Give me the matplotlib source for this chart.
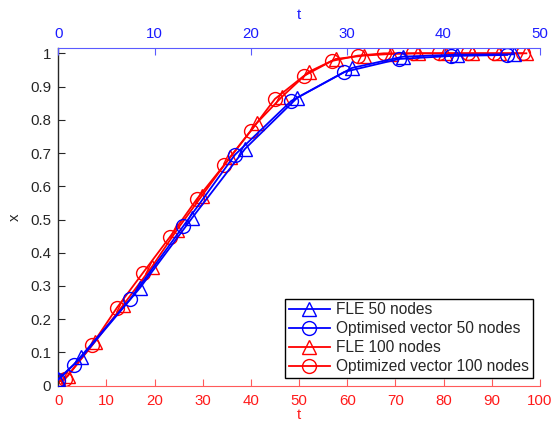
import matplotlib
matplotlib.use("Agg")
import matplotlib.pyplot as plt

# 50 nodes (top axis, 0-50)
blue_tri_t = [0, 2.4, 8.5, 13.9, 19.4, 24.8, 30.5, 35.8, 41.4, 47.3]
blue_tri_x = [0.02, 0.085, 0.295, 0.505, 0.713, 0.866, 0.956, 0.99, 0.996, 0.997]
blue_circ_t = [0, 1.6, 7.45, 12.95, 18.35, 24.2, 29.7, 35.4, 40.8, 46.6]
blue_circ_x = [0.018, 0.063, 0.26, 0.479, 0.695, 0.857, 0.944, 0.983, 0.992, 0.995]

# 100 nodes (bottom axis, 0-100)
red_tri_t = [0, 2, 7.6, 13.5, 19.4, 24.6, 29.8, 35.7, 41.2, 46.5, 52, 57.6,
             63.4, 69, 74.7, 80.4, 86, 91.6, 97.2]
red_tri_x = [0.01, 0.03, 0.132, 0.243, 0.357, 0.468, 0.571, 0.688, 0.79, 0.87,
             0.944, 0.983, 0.993, 0.998, 1.0, 1.0, 1.0, 1.0, 1.0]
red_circ_t = [0, 1.4, 6.9, 12.2, 17.6, 23.2, 28.8, 34.5, 40, 45, 51, 56.8,
              62.2, 67.6, 73.6, 79, 85, 90.4, 96.4]
red_circ_x = [0.012, 0.02, 0.121, 0.235, 0.34, 0.448, 0.562, 0.665, 0.767, 0.863,
              0.932, 0.977, 0.993, 1.0, 1.0, 1.0, 1.0, 1.0, 1.0]

bottom_ticks = list(range(0, 101, 10))
top_ticks = list(range(0, 51, 10))
y_ticks = [0, 0.1, 0.2, 0.3, 0.4, 0.5, 0.6, 0.7, 0.8, 0.9, 1]
y_labels = ["0", "0.1", "0.2", "0.3", "0.4", "0.5", "0.6", "0.7", "0.8", "0.9", "1"]

plt.rcParams["font.family"] = ["Liberation Sans", "DejaVu Sans"]
plt.rcParams["font.size"] = 10.8

RED_AX = "#ff5a5a"
RED_TXT = "#ff1a1a"
BLUE_AX = "#5a5aff"
BLUE_TXT = "#1a1aff"
GRAY = "#262626"

fig = plt.figure(figsize=(5.52, 4.22), dpi=100)
ax = fig.add_axes([0.1056, 0.086, 0.8724, 0.7995])
ax2 = ax.twiny()

mk = dict(markersize=10, markerfacecolor="none", markeredgewidth=1.0, linewidth=1.3)

h3, = ax.plot(red_tri_t, red_tri_x, "-^", color="red", label="FLE 100 nodes", **mk)
h4, = ax.plot(red_circ_t, red_circ_x, "-o", color="red", label="Optimized vector 100 nodes", **mk)
h1, = ax2.plot(blue_tri_t, blue_tri_x, "-^", color="blue", label="FLE 50 nodes", **mk)
h2, = ax2.plot(blue_circ_t, blue_circ_x, "-o", color="blue", label="Optimised vector 50 nodes", **mk)

ax.set_xlim(0, 100)
ax2.set_xlim(0, 50)
ax.set_ylim(0, 1.015)

ax.set_xticks(bottom_ticks)
ax2.set_xticks(top_ticks)
ax.set_yticks(y_ticks)
ax.set_yticklabels(y_labels)

for s in ["top", "right"]:
    ax.spines[s].set_visible(False)
ax.spines["bottom"].set_color(RED_AX)
ax.spines["left"].set_color(GRAY)
ax.spines["left"].set_linewidth(1.0)
for s in ["bottom", "left", "right"]:
    ax2.spines[s].set_visible(False)
ax2.spines["top"].set_color(BLUE_AX)

ax.tick_params(axis="x", direction="in", colors=RED_AX, labelcolor=RED_TXT, length=5, pad=6)
ax.tick_params(axis="y", direction="in", colors=GRAY, labelcolor=GRAY, length=5, pad=5)
ax2.tick_params(axis="x", direction="in", colors=BLUE_AX, labelcolor=BLUE_TXT, length=5, pad=5)

ax.set_xlabel("t", color=RED_TXT, labelpad=0)
ax2.set_xlabel("t", color=BLUE_TXT, labelpad=6)
ax.set_ylabel("x", color=GRAY, labelpad=6)

leg = ax2.legend(handles=[h1, h2, h3, h4], loc="lower right",
                 bbox_to_anchor=(0.985, 0.023), borderaxespad=0,
                 fancybox=False, framealpha=1, edgecolor="black",
                 handlelength=2.6, labelspacing=0.25, borderpad=0.25,
                 handletextpad=0.4, fontsize=11.2)
leg.get_frame().set_linewidth(1.0)
for t in leg.get_texts():
    t.set_color(GRAY)

fig.savefig("out.png", dpi=100)
